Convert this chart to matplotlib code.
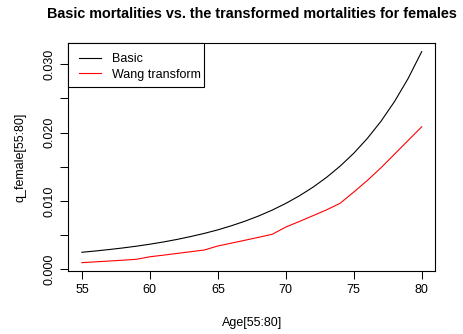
import matplotlib
matplotlib.use("Agg")
import matplotlib.pyplot as plt
from matplotlib.patches import Rectangle

plt.rcParams['font.family'] = ['Liberation Sans', 'DejaVu Sans']

ages = list(range(55, 81))
q_basic = [0.00249, 0.00268, 0.00289, 0.00312, 0.00338, 0.00367,
           0.00400, 0.00437, 0.00479, 0.00525, 0.00577,
           0.00637, 0.00704, 0.00780, 0.00866, 0.00964,
           0.01075, 0.01201, 0.01345, 0.01510, 0.01698,
           0.01915, 0.02165, 0.02455, 0.02792, 0.03185]
q_wang = [0.00097, 0.00109, 0.00121, 0.00133, 0.00146, 0.00183,
          0.00207, 0.00232, 0.00257, 0.00282, 0.00341,
          0.00383, 0.00425, 0.00468, 0.00512, 0.00618,
          0.00700, 0.00784, 0.00870, 0.00966, 0.01130,
          0.01300, 0.01485, 0.01685, 0.01885, 0.02085]
series_labels = ["Basic", "Wang transform"]
title = "Basic mortalities vs. the transformed mortalities for females"
xlabel = "Age[55:80]"
ylabel = "q_female[55:80]"
xticks = [55, 60, 65, 70, 75, 80]
yticks = [0.000, 0.005, 0.010, 0.015, 0.020, 0.025, 0.030]
ytick_labels = ["0.000", "", "0.010", "", "0.020", "", "0.030"]

W, H = 463, 334
fig = plt.figure(figsize=(W / 100, H / 100), dpi=100)
L, R, T, B = 68.3, 435.3, 43.3, 271.0
ax = fig.add_axes([L / W, 1 - B / H, (R - L) / W, (B - T) / H])

ax.plot(ages, q_basic, color="black", lw=0.8, label=series_labels[0])
ax.plot(ages, q_wang, color="red", lw=0.8, label=series_labels[1])

ax.set_xlim(54, 81)
ax.set_ylim(-0.00025, 0.03307)
ax.set_xticks(xticks)
ax.set_yticks(yticks)
ax.set_yticklabels(ytick_labels, rotation=90, va="center")
ax.tick_params(axis="both", direction="out", length=5.5, width=0.75,
               labelsize=9, colors="black", pad=4)
for s in ax.spines.values():
    s.set_linewidth(0.8)
    s.set_color("black")

ax.set_xlabel(xlabel, fontsize=9, labelpad=15)
ax.set_ylabel(ylabel, fontsize=9, labelpad=12)
fig.text((L + R) / 2 / W, 1 - 14.5 / H, title, ha="center", va="center",
         fontsize=10.4, fontweight="bold")

# legend frame
lw_ax = (204 - L) / (R - L)
lh_ax = (86.7 - T) / (B - T)
ax.add_patch(Rectangle((0, 1 - lh_ax), lw_ax, lh_ax, transform=ax.transAxes,
                       fill=True, facecolor="white", edgecolor="black",
                       lw=0.8, zorder=5, clip_on=False))
leg = ax.legend(loc="upper left", bbox_to_anchor=((79.3 - L) / (R - L), 1 - (53.0 - T) / (B - T)),
                frameon=False, fontsize=9, borderpad=0, borderaxespad=0,
                handlelength=1.71, handletextpad=0.88, labelspacing=0.28)
leg.set_zorder(6)

fig.savefig("out.png", dpi=100)
